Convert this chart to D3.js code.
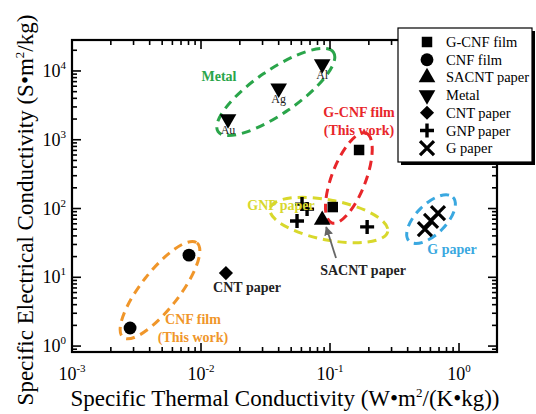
<!DOCTYPE html>
<html>
<head>
<meta charset="utf-8">
<script src="https://cdn.jsdelivr.net/npm/d3@7"></script>
<style>
  body { margin: 0; background: #fff; }
  svg text { font-family: "Liberation Serif", "Times New Roman", serif; }
</style>
</head>
<body>
<svg id="chart" width="536" height="414" font-family="Liberation Serif, serif"></svg>
<script>
// data (x: W·m²/(K·kg), y: S·m²/kg)
const gcnfFilm = [[0.168, 710], [0.105, 105]];
const cnfFilm = [[0.00807, 21], [0.00282, 1.83]];
const sacntPaper = [[0.087, 68]];
const metal = [[0.0162, 2000, "Au"], [0.040, 5600, "Ag"], [0.087, 12600, "Al"]];
const cntPaper = [[0.0156, 11.5]];
const gnpPaper = [[0.0607, 116], [0.0664, 98], [0.0555, 66], [0.194, 54]];
const gPaper = [[0.544, 50], [0.607, 66], [0.687, 86]];

const legendNames = ["G-CNF film", "CNF film", "SACNT paper", "Metal", "CNT paper", "GNP paper", "G paper"];
const xTickVals = [1e-3, 1e-2, 1e-1, 1e0];
const xTickExp = ["-3", "-2", "-1", "0"];
const yTickVals = [1e0, 1e1, 1e2, 1e3, 1e4];
const yTickExp = ["0", "1", "2", "3", "4"];

// group ellipses: centre in data units, radii in px, rotation in degrees
const groups = [
  { c: [0.038, 4950], rx: 70, ry: 22, rot: -34.5, color: "#2aa54a" },
  { c: [0.140, 278], rx: 48, ry: 17, rot: -69, color: "#e8262a" },
  { c: [0.098, 68], rx: 60, ry: 20, rot: 11, color: "#d8d82c" },
  { c: [0.607, 70], rx: 31, ry: 15, rot: -45, color: "#3aa8e0" },
  { c: [0.00481, 6.5], rx: 60, ry: 19, rot: -52, color: "#f0962a" }
];

const svg = d3.select("#chart");
const margin = { left: 72, top: 40, right: 39, bottom: 62 };
const W = 536, H = 414;

const x = d3.scaleLog().domain([1e-3, 1.97]).range([margin.left, W - margin.right]);
const y = d3.scaleLog().domain([0.82, 28200]).range([H - margin.bottom, margin.top]);

// ellipses
groups.forEach(g => {
  svg.append("ellipse")
    .attr("cx", 0).attr("cy", 0)
    .attr("rx", g.rx).attr("ry", g.ry)
    .attr("transform", `translate(${x(g.c[0])},${y(g.c[1])}) rotate(${g.rot})`)
    .attr("fill", "none")
    .attr("stroke", g.color)
    .attr("stroke-width", 3)
    .attr("stroke-dasharray", "9,6");
});

// axes with inward ticks
function minorTicks(scale) {
  const [a, b] = scale.domain();
  const out = [];
  for (let e = Math.floor(Math.log10(a)); e <= Math.ceil(Math.log10(b)); e++) {
    for (let m = 1; m < 10; m++) {
      const v = m * Math.pow(10, e);
      if (v >= a && v <= b) out.push(v);
    }
  }
  return out;
}

const x0 = x.range()[0], x1 = x.range()[1];
const y0 = y.range()[0], y1 = y.range()[1];

const gx = svg.append("g").attr("stroke", "#000");
minorTicks(x).forEach(v => {
  const major = xTickVals.includes(v);
  const len = major ? 9 : 5;
  gx.append("line").attr("x1", x(v)).attr("x2", x(v)).attr("y1", y0).attr("y2", y0 - len).attr("stroke-width", 1.6);
  gx.append("line").attr("x1", x(v)).attr("x2", x(v)).attr("y1", y1).attr("y2", y1 + len).attr("stroke-width", 1.6);
});
minorTicks(y).forEach(v => {
  const major = yTickVals.includes(v);
  const len = major ? 9 : 5;
  gx.append("line").attr("y1", y(v)).attr("y2", y(v)).attr("x1", x0).attr("x2", x0 + len).attr("stroke-width", 1.6);
  gx.append("line").attr("y1", y(v)).attr("y2", y(v)).attr("x1", x1).attr("x2", x1 - len).attr("stroke-width", 1.6);
});

svg.append("rect")
  .attr("x", x0).attr("y", y1)
  .attr("width", x1 - x0).attr("height", y0 - y1)
  .attr("fill", "none").attr("stroke", "#000").attr("stroke-width", 2.2);

// tick labels
xTickVals.forEach((v, i) => {
  const t = svg.append("text").attr("x", x(v)).attr("y", 380)
    .attr("text-anchor", "middle").attr("font-size", 18);
  t.append("tspan").text("10");
  t.append("tspan").attr("dy", -8).attr("font-size", 11).text(xTickExp[i]);
});
yTickVals.forEach((v, i) => {
  const t = svg.append("text").attr("x", 66).attr("y", y(v) + 6)
    .attr("text-anchor", "end").attr("font-size", 18);
  t.append("tspan").text("10");
  t.append("tspan").attr("dy", -8).attr("font-size", 11).text(yTickExp[i]);
});

// axis titles
const xt = svg.append("text").attr("x", 285).attr("y", 406)
  .attr("text-anchor", "middle").attr("font-size", 23);
xt.append("tspan").text("Specific Thermal Conductivity (W\u2022m");
xt.append("tspan").attr("dy", -9).attr("font-size", 13).text("2");
xt.append("tspan").attr("dy", 9).text("/(K\u2022kg))");

const yt = svg.append("text")
  .attr("transform", "translate(33,210) rotate(-90)")
  .attr("text-anchor", "middle").attr("font-size", 23);
yt.append("tspan").text("Specific Electrical Conductivity (S\u2022m");
yt.append("tspan").attr("dy", -9).attr("font-size", 13).text("2");
yt.append("tspan").attr("dy", 9).text("/kg)");

// marker shapes
const sym = {
  "G-CNF film": d3.symbol().type(d3.symbolSquare).size(110),
  "CNF film": d3.symbol().type(d3.symbolCircle).size(130),
  "SACNT paper": d3.symbol().type(d3.symbolTriangle).size(120),
  "Metal": d3.symbol().type(d3.symbolTriangle).size(120),
  "CNT paper": d3.symbol().type(d3.symbolSquare).size(100)
};

function drawMarker(g, name, px, py) {
  if (name === "GNP paper") {
    g.append("path").attr("d", `M${px - 7},${py}H${px + 7}M${px},${py - 7}V${py + 7}`)
      .attr("stroke", "#000").attr("stroke-width", 3.4);
  } else if (name === "G paper") {
    g.append("path").attr("d", `M${px - 7},${py - 7}L${px + 7},${py + 7}M${px - 7},${py + 7}L${px + 7},${py - 7}`)
      .attr("stroke", "#000").attr("stroke-width", 3.2);
  } else {
    const rot = name === "Metal" ? 180 : name === "CNT paper" ? 45 : 0;
    g.append("path").attr("d", sym[name]())
      .attr("transform", `translate(${px},${py}) rotate(${rot})`)
      .attr("fill", "#000");
  }
}

const series = [
  ["G-CNF film", gcnfFilm], ["CNF film", cnfFilm], ["SACNT paper", sacntPaper],
  ["Metal", metal], ["CNT paper", cntPaper], ["GNP paper", gnpPaper], ["G paper", gPaper]
];
const gm = svg.append("g");
series.forEach(([name, pts]) => {
  pts.forEach(d => drawMarker(gm, name, x(d[0]), y(d[1])));
});

// metal element labels
metal.forEach(d => {
  svg.append("text").attr("x", x(d[0])).attr("y", y(d[1]) + 15)
    .attr("text-anchor", "middle").attr("font-size", 12).attr("fill", "#222").text(d[2]);
});

// group annotations
function note(lines, px, py, color, size) {
  const t = svg.append("text").attr("x", px).attr("y", py)
    .attr("text-anchor", "middle").attr("font-size", size || 14)
    .attr("font-weight", "bold").attr("fill", color);
  lines.forEach((s, i) => t.append("tspan").attr("x", px).attr("dy", i ? 18 : 0).text(s));
}
note(["Metal"], 219, 81, "#2aa54a");
note(["G-CNF film", "(This work)"], 359, 117, "#e8262a");
note(["GNP paper"], 281, 210, "#d8d82c");
note(["SACNT paper"], 363, 275, "#222");
note(["CNT paper"], 247, 292, "#222");
note(["CNF film", "(This work)"], 193, 324, "#f0962a");
note(["G paper"], 452, 254, "#3aa8e0");

// arrow to SACNT point
svg.append("defs").append("marker")
  .attr("id", "ah").attr("viewBox", "0 0 10 10").attr("refX", 9).attr("refY", 5)
  .attr("markerWidth", 5).attr("markerHeight", 5).attr("orient", "auto")
  .append("path").attr("d", "M0,0L10,5L0,10Z").attr("fill", "#666");
svg.append("line")
  .attr("x1", 336).attr("y1", 258)
  .attr("x2", x(sacntPaper[0][0]) + 4).attr("y2", y(sacntPaper[0][1]) + 7)
  .attr("stroke", "#666").attr("stroke-width", 1.8).attr("marker-end", "url(#ah)");

// legend
const lg = svg.append("g");
lg.append("rect").attr("x", 401).attr("y", 31).attr("width", 134).attr("height", 134).attr("fill", "#000");
lg.append("rect").attr("x", 398).attr("y", 28).attr("width", 134).attr("height", 134)
  .attr("fill", "#fff").attr("stroke", "#000").attr("stroke-width", 1.2);
legendNames.forEach((name, i) => {
  const ly = 42 + i * 17.7;
  drawMarker(lg, name, 427, ly);
  lg.append("text").attr("x", 446).attr("y", ly + 5).attr("font-size", 14.5).text(name);
});
</script>
</body>
</html>
